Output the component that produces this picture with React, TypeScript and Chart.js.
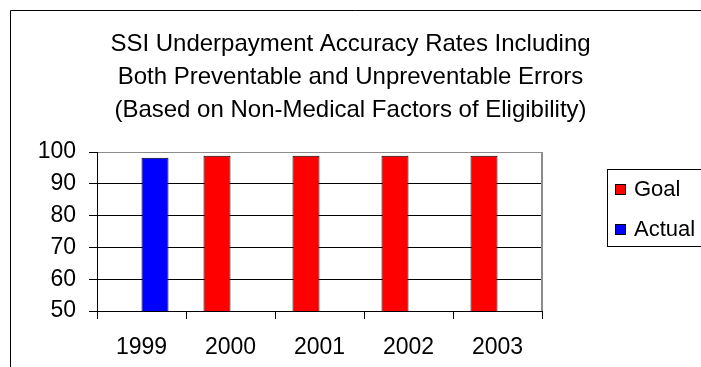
import React, { useEffect, useRef } from "react";
import { Chart, registerables } from "chart.js";

Chart.register(...registerables);

const years = ["1999", "2000", "2001", "2002", "2003"];
const goalRates = [null, 98.8, 98.8, 98.8, 98.8];
const actualRates = [98.2, null, null, null, null];
const yTickValues = [50, 60, 70, 80, 90, 100];
const titleLines = [
  "SSI Underpayment Accuracy Rates Including",
  "Both Preventable and Unpreventable Errors",
  "(Based on Non-Medical Factors of Eligibility)",
];

const FONT = "'Liberation Sans', Arial, sans-serif";

// Outer frame, plot border and a boxed legend on the right
const framePlugin = {
  id: "frame",
  beforeDraw(chart: any) {
    const { ctx, width, height } = chart;
    ctx.save();
    ctx.fillStyle = "#ffffff";
    ctx.fillRect(0, 0, width, height);
    ctx.restore();
  },
  afterDraw(chart: any) {
    const { ctx, chartArea, width, height } = chart;
    ctx.save();
    // outer chart frame
    ctx.strokeStyle = "#000000";
    ctx.lineWidth = 1;
    ctx.beginPath();
    ctx.moveTo(10.5, height);
    ctx.lineTo(10.5, 10.5);
    ctx.lineTo(width, 10.5);
    ctx.stroke();
    // right side of the plot area
    ctx.strokeStyle = "#8c8c8c";
    ctx.lineWidth = 2;
    ctx.beginPath();
    ctx.moveTo(chartArea.right, chartArea.top);
    ctx.lineTo(chartArea.right, chartArea.bottom);
    ctx.stroke();
    // legend
    const lx = 607.5;
    const ly = 169.5;
    ctx.strokeStyle = "#000000";
    ctx.lineWidth = 1;
    ctx.strokeRect(lx, ly, 200, 77);
    ctx.font = `22px ${FONT}`;
    ctx.textBaseline = "middle";
    chart.data.datasets.forEach((ds: any, i: number) => {
      const cy = 189 + i * 40;
      ctx.fillStyle = ds.backgroundColor;
      ctx.fillRect(615, cy - 5, 11, 11);
      ctx.strokeStyle = "#000000";
      ctx.strokeRect(615.5, cy - 4.5, 10, 10);
      ctx.fillStyle = "#000000";
      ctx.fillText(ds.label, 634, cy + 1);
    });
    ctx.restore();
  },
};

export default function App() {
  const ref = useRef<HTMLCanvasElement>(null);

  useEffect(() => {
    if (!ref.current) return;
    const chart = new Chart(ref.current, {
      type: "bar",
      data: {
        labels: years,
        datasets: [
          {
            label: "Goal",
            data: goalRates,
            backgroundColor: "#ff0000",
            borderColor: "#000000",
            borderWidth: 1,
          },
          {
            label: "Actual",
            data: actualRates,
            backgroundColor: "#0000ff",
            borderColor: "#000000",
            borderWidth: 1,
          },
        ],
      },
      options: {
        animation: false,
        responsive: false,
        maintainAspectRatio: false,
        layout: { padding: 0 },
        datasets: {
          bar: { categoryPercentage: 0.607, barPercentage: 1 },
        },
        plugins: {
          legend: { display: false },
          tooltip: { enabled: false },
          title: {
            display: true,
            text: titleLines,
            color: "#000000",
            font: { family: FONT, size: 24, weight: "normal", lineHeight: 1.375 },
            padding: { top: 28, bottom: 25 },
          },
        },
        scales: {
          x: {
            offset: true,
            grid: {
              display: true,
              offset: true,
              drawOnChartArea: false,
              drawTicks: true,
              tickLength: 8,
              color: "#000000",
            },
            border: { display: true, color: "#000000", width: 1 },
            ticks: {
              color: "#000000",
              padding: 15,
              font: { family: FONT, size: 23 },
              maxRotation: 0,
            },
            afterFit(scale: any) {
              scale.height = 56;
            },
          },
          y: {
            min: 50,
            max: 100,
            afterBuildTicks(scale: any) {
              scale.ticks = yTickValues.map((v) => ({ value: v }));
            },
            ticks: {
              color: "#000000",
              padding: 13,
              font: { family: FONT, size: 23 },
            },
            grid: {
              color: (c: any) => (c.tick && c.tick.value === 100 ? "#8c8c8c" : "#000000"),
              tickColor: "#000000",
              tickLength: 8,
              lineWidth: 1,
            },
            border: { display: true, color: "#000000", width: 1 },
            afterFit(scale: any) {
              scale.width = 97;
            },
          },
          // reserves the legend column to the right of the plot
          legendSpace: {
            type: "linear",
            position: "right",
            display: true,
            ticks: { display: false },
            grid: { display: false },
            border: { display: false },
            afterFit(scale: any) {
              scale.width = 159;
            },
          },
        },
      },
      plugins: [framePlugin],
    });
    return () => chart.destroy();
  }, []);

  return (
    <div style={{ position: "fixed", left: 0, top: 0, width: 701, height: 367 }}>
      <canvas ref={ref} width={701} height={367} />
    </div>
  );
}
